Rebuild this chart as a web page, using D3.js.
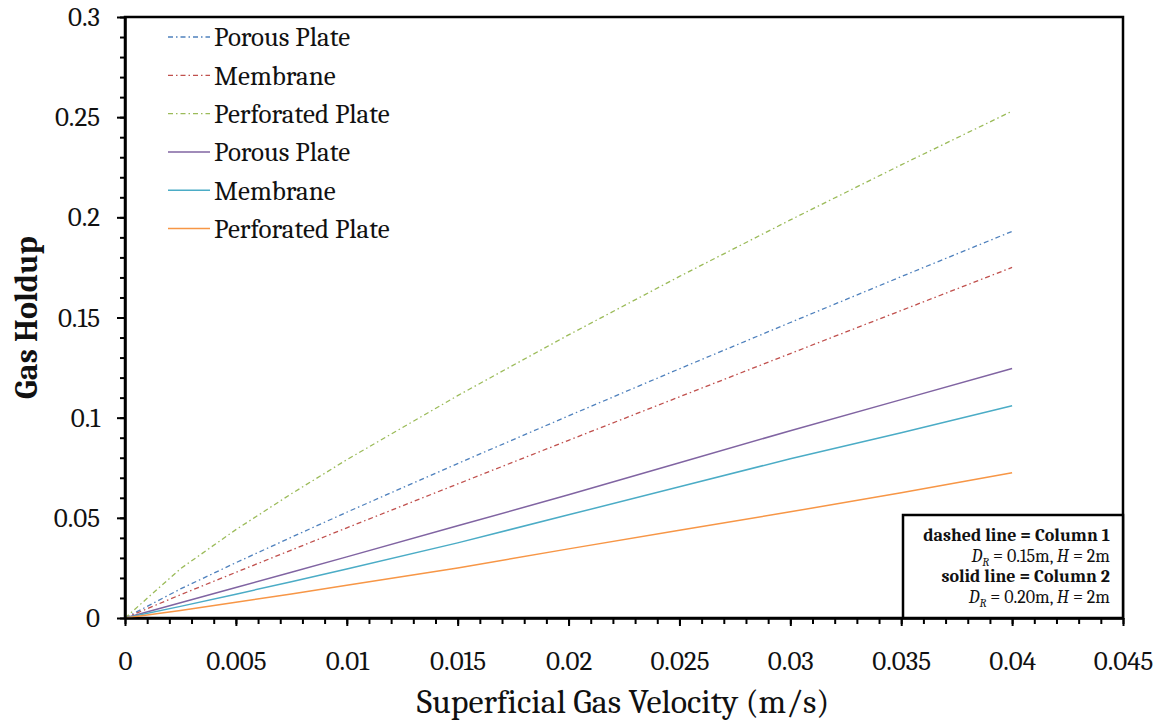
<!DOCTYPE html>
<html lang="en">
<head>
<meta charset="UTF-8">
<title>Gas Holdup vs Superficial Gas Velocity</title>
<script src="https://d3js.org/d3.v7.min.js"></script>
<style>
    body{margin:0;background:#fff;}
    svg text{font-family:Cambria,"DejaVu Serif",serif;fill:#111;}
    .axis path,.axis line{stroke:#000;}
</style>
</head>
<body>
<script>
// data
var velocity       = [0, 0.0025, 0.005, 0.0075, 0.01, 0.015, 0.02, 0.025, 0.03, 0.035, 0.04];
var porousCol1     = [0, 0.0145, 0.0276, 0.0403, 0.0528, 0.0771, 0.1009, 0.1244, 0.1475, 0.1704, 0.193];
var membraneCol1   = [0, 0.0116, 0.0228, 0.0339, 0.045, 0.0669, 0.0887, 0.1104, 0.132, 0.1535, 0.175];
var perforatedCol1 = [0, 0.0246, 0.0441, 0.062, 0.079, 0.111, 0.1413, 0.1705, 0.1987, 0.2262, 0.253];
var porousCol2     = [0, 0.0076, 0.0152, 0.0228, 0.0305, 0.046, 0.0615, 0.0775, 0.0935, 0.109, 0.1245];
var membraneCol2   = [0, 0.0058, 0.0119, 0.0181, 0.0245, 0.0375, 0.0515, 0.0655, 0.0795, 0.0925, 0.106];
var perforatedCol2 = [0, 0.0038, 0.0079, 0.012, 0.0163, 0.025, 0.0345, 0.0438, 0.053, 0.0625, 0.0725];

var seriesNames  = ["Porous Plate", "Membrane", "Perforated Plate", "Porous Plate", "Membrane", "Perforated Plate"];
var seriesValues = [porousCol1, membraneCol1, perforatedCol1, porousCol2, membraneCol2, perforatedCol2];
var seriesColors = ["#4f81bd", "#c0504d", "#9bbb59", "#8064a2", "#4bacc6", "#f79646"];
var seriesDashed = [true, true, true, false, false, false];

var xTicks = [0, 0.005, 0.01, 0.015, 0.02, 0.025, 0.03, 0.035, 0.04, 0.045];
var yTicks = [0, 0.05, 0.1, 0.15, 0.2, 0.25, 0.3];

var noteLines = [
    {bold: true,  text: "dashed line = Column 1"},
    {bold: false, d: "0.15"},
    {bold: true,  text: "solid line = Column 2"},
    {bold: false, d: "0.20"}
];

var w = 1158, h = 723;
var plotLeft = 125, plotRight = 1123, plotTop = 17, plotBottom = 618;

var svg = d3.select("body").append("svg")
    .attr("width", w).attr("height", h);

var xScale = d3.scaleLinear().domain([0, 0.045]).range([plotLeft, plotRight]);
var yScale = d3.scaleLinear().domain([0, 0.3]).range([plotBottom, plotTop]);

var fmt = d => String(+d.toFixed(3));

// frame
svg.append("rect")
    .attr("x", plotLeft).attr("y", plotTop)
    .attr("width", plotRight - plotLeft).attr("height", plotBottom - plotTop)
    .attr("fill", "none").attr("stroke", "#000").attr("stroke-width", 2.5);

// series
var line = d3.line()
    .x((d, i) => xScale(velocity[i]))
    .y(d => yScale(d));

svg.append("g").selectAll("path")
    .data(seriesValues)
    .enter().append("path")
    .attr("d", d => line(d))
    .attr("fill", "none")
    .attr("stroke", (d, i) => seriesColors[i])
    .attr("stroke-width", (d, i) => seriesDashed[i] ? 1.3 : 1.5)
    .attr("stroke-dasharray", (d, i) => seriesDashed[i] ? "5,3,1.5,3" : null);

// minor ticks
var minorX = d3.range(0, 46).map(i => i / 1000);
var minorY = d3.range(0, 31).map(i => i / 100);

svg.append("g").attr("class", "axis")
    .attr("transform", `translate(0,${plotBottom})`)
    .call(d3.axisBottom(xScale).tickValues(minorX).tickSize(6).tickFormat(""))
    .call(g => g.select(".domain").remove())
    .selectAll("line").attr("stroke-width", 2);

svg.append("g").attr("class", "axis")
    .attr("transform", `translate(${plotLeft},0)`)
    .call(d3.axisLeft(yScale).tickValues(minorY).tickSize(5).tickFormat(""))
    .call(g => g.select(".domain").remove())
    .selectAll("line").attr("stroke-width", 2);

// major axes
var xAxis = svg.append("g").attr("class", "axis")
    .attr("transform", `translate(0,${plotBottom})`)
    .call(d3.axisBottom(xScale).tickValues(xTicks).tickSize(8).tickSizeOuter(0).tickFormat(fmt).tickPadding(25));
xAxis.select(".domain").attr("stroke-width", 2.5);
xAxis.selectAll("line").attr("stroke-width", 2);
xAxis.selectAll("text").attr("font-size", 27).attr("fill", "#111");

var yAxis = svg.append("g").attr("class", "axis")
    .attr("transform", `translate(${plotLeft},0)`)
    .call(d3.axisLeft(yScale).tickValues(yTicks).tickSize(8).tickSizeOuter(0).tickFormat(fmt).tickPadding(17));
yAxis.select(".domain").attr("stroke-width", 2.5);
yAxis.selectAll("line").attr("stroke-width", 2);
yAxis.selectAll("text").attr("font-size", 27).attr("fill", "#111");

// axis titles
svg.append("text")
    .attr("x", 623).attr("y", 713)
    .attr("text-anchor", "middle")
    .attr("font-size", 34)
    .text("Superficial Gas Velocity (m/s)");

svg.append("text")
    .attr("transform", `translate(37,${(plotTop + plotBottom) / 2}) rotate(-90)`)
    .attr("text-anchor", "middle")
    .attr("font-size", 32)
    .attr("font-weight", "bold")
    .text("Gas Holdup");

// legend
var legend = svg.append("g").selectAll("g")
    .data(seriesNames)
    .enter().append("g")
    .attr("transform", (d, i) => `translate(168,${37 + i * 38.3})`);

legend.append("line")
    .attr("x1", 0).attr("x2", 42)
    .attr("stroke", (d, i) => seriesColors[i])
    .attr("stroke-width", (d, i) => seriesDashed[i] ? 1.3 : 1.5)
    .attr("stroke-dasharray", (d, i) => seriesDashed[i] ? "5,3,1.5,3" : null);

legend.append("text")
    .attr("x", 46).attr("dy", "0.35em")
    .attr("font-size", 27)
    .text(d => d);

// note box
svg.append("rect")
    .attr("x", 903).attr("y", 515)
    .attr("width", plotRight - 903).attr("height", plotBottom - 515)
    .attr("fill", "#fff").attr("stroke", "#000").attr("stroke-width", 2.5);

var note = svg.append("g").selectAll("text")
    .data(noteLines)
    .enter().append("text")
    .attr("x", 1110)
    .attr("y", (d, i) => 541 + i * 20.7)
    .attr("text-anchor", "end")
    .attr("font-size", 18)
    .attr("font-weight", d => d.bold ? "bold" : "normal");

note.filter(d => d.bold).text(d => d.text);

note.filter(d => !d.bold).each(function(d) {
    var t = d3.select(this);
    t.append("tspan").attr("font-style", "italic").text("D");
    t.append("tspan").attr("font-style", "italic").attr("font-size", 12).attr("dy", 4).text("R");
    t.append("tspan").attr("dy", -4).text(" = " + d.d + "m, ");
    t.append("tspan").attr("font-style", "italic").text("H");
    t.append("tspan").text(" = 2m");
});
</script>
</body>
</html>
